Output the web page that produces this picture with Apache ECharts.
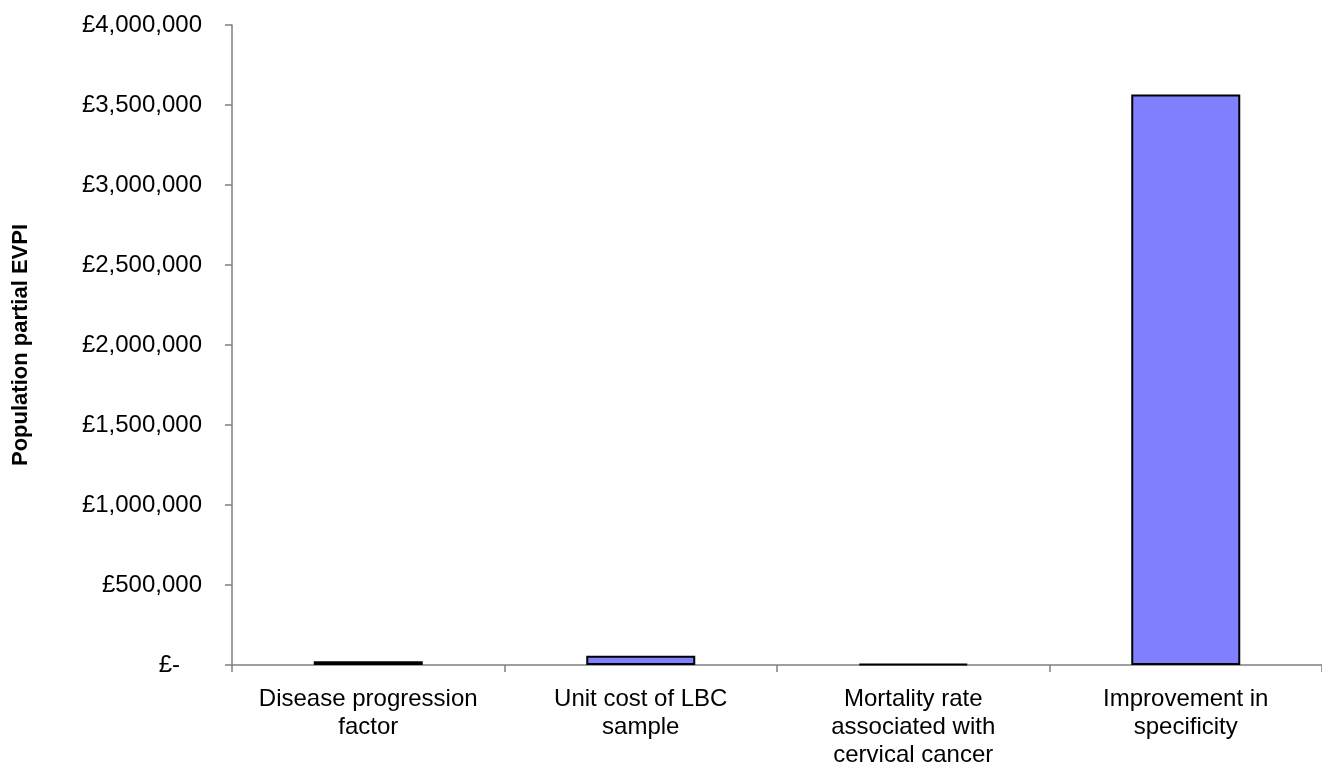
<!DOCTYPE html>
<html>
<head>
<meta charset="utf-8">
<script src="https://cdn.jsdelivr.net/npm/echarts@6/dist/echarts.min.js"></script>
<style>
html,body{margin:0;padding:0;background:#fff;}
#chart{width:1322px;height:769px;}
</style>
</head>
<body>
<div id="chart"></div>
<script>
const categories = [
  "Disease progression\nfactor",
  "Unit cost of LBC\nsample",
  "Mortality rate\nassociated with\ncervical cancer",
  "Improvement in\nspecificity"
];
const evpiValues = [24000, 58000, 6000, 3565000];
const yTicks = { min: 0, max: 4000000, interval: 500000 };
const yAxisTitle = "Population partial EVPI";

const chart = echarts.init(document.getElementById('chart'), null, {renderer: 'canvas'});
const font = '"Liberation Sans", Arial, sans-serif';
function fmt(v) {
  if (v === 0) return '{z|£-}';
  return '£' + v.toLocaleString('en-GB');
}
chart.setOption({
  animation: false,
  backgroundColor: '#ffffff',
  grid: { left: 232, top: 25, bottom: 99, width: 1100, containLabel: false },
  xAxis: {
    type: 'category',
    data: categories,
    axisLine: { show: true, lineStyle: { color: '#808080', width: 1.5 } },
    axisTick: { show: true, alignWithLabel: false, length: 7, lineStyle: { color: '#808080', width: 1.5 } },
    axisLabel: { margin: 20, color: '#000', fontFamily: font, fontSize: 24, lineHeight: 28, interval: 0 }
  },
  yAxis: {
    type: 'value',
    min: yTicks.min, max: yTicks.max, interval: yTicks.interval,
    name: yAxisTitle,
    nameLocation: 'middle',
    nameGap: 200,
    nameTextStyle: { fontFamily: font, fontSize: 22, fontWeight: 'bold', color: '#000' },
    splitLine: { show: false },
    axisLine: { show: true, lineStyle: { color: '#808080', width: 1.5 } },
    axisTick: { show: true, length: 7, lineStyle: { color: '#808080', width: 1.5 } },
    axisLabel: {
      margin: 30, color: '#000', fontFamily: font, fontSize: 24,
      formatter: fmt,
      rich: { z: { fontFamily: font, fontSize: 24, color: '#000', padding: [0, 22, 0, 0] } }
    }
  },
  series: [{
    type: 'bar',
    data: evpiValues,
    barWidth: '40%',
    itemStyle: { color: '#8080FF', borderColor: '#000', borderWidth: 2 }
  }]
});
</script>
</body>
</html>
